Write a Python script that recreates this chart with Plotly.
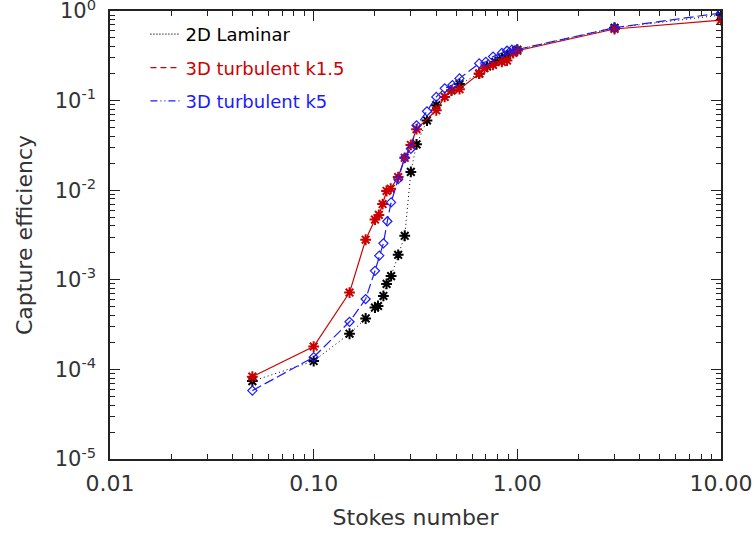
import plotly.graph_objects as go

# 2D Laminar
st_lam = [0.05, 0.10, 0.15, 0.18, 0.20, 0.207, 0.22, 0.228, 0.24, 0.26, 0.28, 0.30, 0.32,
          0.36, 0.40, 0.475, 0.52, 0.65, 0.71, 0.78, 0.84, 0.89, 0.95, 1.0, 3.0, 10.0]
ce_lam = [7.4e-5, 1.24e-4, 2.5e-4, 3.7e-4, 4.9e-4, 5.1e-4, 6.6e-4, 9.0e-4, 1.1e-3, 1.9e-3, 3.1e-3,
          1.6e-2, 3.25e-2, 0.060, 0.089, 0.13, 0.153, 0.20, 0.24, 0.27, 0.30, 0.32, 0.35, 0.37, 0.65, 0.90]

# 3D turbulent k1.5
st_k15 = [0.05, 0.10, 0.15, 0.18, 0.20, 0.209, 0.218, 0.228, 0.239, 0.26, 0.28, 0.30, 0.32,
          0.40, 0.44, 0.475, 0.52, 0.65, 0.69, 0.76, 0.84, 0.89, 0.955, 1.0, 3.0, 10.0]
ce_k15 = [8.3e-5, 1.8e-4, 7.2e-4, 2.8e-3, 4.7e-3, 5.3e-3, 7.0e-3, 9.8e-3, 1.04e-2, 1.4e-2, 2.3e-2,
          3.2e-2, 4.8e-2, 0.078, 0.11, 0.13, 0.134, 0.20, 0.23, 0.25, 0.27, 0.28, 0.34, 0.36, 0.63, 0.79]

# 3D turbulent k5
st_k5 = [0.05, 0.10, 0.15, 0.18, 0.20, 0.21, 0.22, 0.23, 0.24, 0.26, 0.28, 0.30, 0.32, 0.36,
         0.40, 0.44, 0.48, 0.52, 0.65, 0.70, 0.76, 0.84, 0.89, 0.94, 0.99, 3.0, 10.0]
ce_k5 = [5.8e-5, 1.37e-4, 3.4e-4, 6.1e-4, 1.26e-3, 1.86e-3, 2.55e-3, 4.5e-3, 7.3e-3, 1.33e-2, 2.3e-2,
         2.9e-2, 5.3e-2, 0.076, 0.11, 0.137, 0.149, 0.177, 0.26, 0.27, 0.31, 0.34, 0.36, 0.37, 0.37, 0.65, 0.95]

labels = ["2D Laminar", "3D turbulent k1.5", "3D turbulent k5"]
x_ticks = [0.01, 0.1, 1, 10]
x_ticktext = ["0.01", "0.10", "1.00", "10.00"]
y_ticks = [1e-5, 1e-4, 1e-3, 1e-2, 1e-1, 1]
y_ticktext = ["10<sup>-5</sup>", "10<sup>-4</sup>", "10<sup>-3</sup>", "10<sup>-2</sup>",
              "10<sup>-1</sup>", "10<sup>0</sup>"]

x_minor = [m * d for d in x_ticks[:-1] for m in range(2, 10)]
y_minor = [m * d for d in y_ticks[:-1] for m in range(2, 10)]

BLACK = "#000000"
RED = "#cc0000"
BLUE = "#1a1aff"
FONT = "DejaVu Sans"
TXT = "#333333"
AX = "#222222"

fig = go.Figure()
fig.add_trace(go.Scatter(x=st_lam, y=ce_lam, mode="lines+markers", showlegend=False,
                         line=dict(color=BLACK, width=1, dash="1px,3px"),
                         marker=dict(symbol="asterisk-open", size=9,
                                     line=dict(color=BLACK, width=2))))
fig.add_trace(go.Scatter(x=st_k15, y=ce_k15, mode="lines+markers", showlegend=False,
                         line=dict(color=RED, width=1.2),
                         marker=dict(symbol="asterisk-open", size=9,
                                     line=dict(color=RED, width=2))))
fig.add_trace(go.Scatter(x=st_k5, y=ce_k5, mode="lines+markers", showlegend=False,
                         line=dict(color=BLUE, width=1.2, dash="10px,4px"),
                         marker=dict(symbol="diamond-open", size=7,
                                     line=dict(color=BLUE, width=1.2))))

# legend entries
leg_styles = [(BLACK, "1px,2px"), (RED, "6px,4px"), (BLUE, "7px,3px,1px,3px,1px,3px")]
for i, (lab, (col, dsh)) in enumerate(zip(labels, leg_styles)):
    fig.add_trace(go.Scatter(x=[None], y=[None], mode="lines", name=f"<span style='color:{col}'>{lab}</span>",
                             legendgroup=f"g{i}",
                             line=dict(color=col, width=1.2, dash=dsh)))

# invisible trace carrying the minor-tick overlay axes
fig.add_trace(go.Scatter(x=[None], y=[None], xaxis="x2", yaxis="y2", mode="markers",
                         showlegend=False, hoverinfo="skip"))

axis_common = dict(type="log", showgrid=False, zeroline=False, showline=True,
                   linecolor=AX, linewidth=1.5, mirror="allticks",
                   ticks="inside", ticklen=10, tickwidth=1.2, tickcolor=AX,
                   automargin=False, ticklabeloverflow="allow")

fig.update_layout(
    xaxis=dict(**axis_common, range=[-2, 1], tickmode="array", tickvals=x_ticks, ticktext=x_ticktext,
               tickfont=dict(family=FONT, size=22, color=TXT),
               ticklabelstandoff=4,
               title=dict(text="Stokes number", font=dict(family=FONT, size=22, color=TXT),
                          standoff=14)),
    yaxis=dict(**axis_common, range=[-5, 0], tickmode="array", tickvals=y_ticks, ticktext=y_ticktext,
               tickfont=dict(family=FONT, size=21, color=TXT),
               ticklabelstandoff=8,
               title=dict(text="Capture efficiency", font=dict(family=FONT, size=22, color=TXT),
                          standoff=16)),
    xaxis2=dict(type="log", overlaying="x", side="bottom", anchor="y2", range=[-2, 1],
                tickmode="array", tickvals=x_minor, showticklabels=False,
                ticks="inside", ticklen=5, tickwidth=1.2, tickcolor=AX, mirror="allticks",
                showline=False, showgrid=False, zeroline=False, automargin=False),
    yaxis2=dict(type="log", overlaying="y", side="left", anchor="x2", range=[-5, 0],
                tickmode="array", tickvals=y_minor, showticklabels=False,
                ticks="inside", ticklen=5, tickwidth=1.2, tickcolor=AX, mirror="allticks",
                showline=False, showgrid=False, zeroline=False, automargin=False),
)

fig.update_layout(width=755, height=534, plot_bgcolor="white", paper_bgcolor="white",
                  margin=dict(l=110, r=34, t=11, b=75, autoexpand=False),
                  legend=dict(x=0.058, y=0.989, xanchor="left", yanchor="top",
                              bgcolor="rgba(0,0,0,0)", tracegroupgap=7,
                              font=dict(family=FONT, size=18, color=TXT)),
                  font=dict(family=FONT))

fig.write_html("out.html", config={"displayModeBar": False},
               post_script="document.body.style.margin='0';document.body.style.overflow='hidden';")
